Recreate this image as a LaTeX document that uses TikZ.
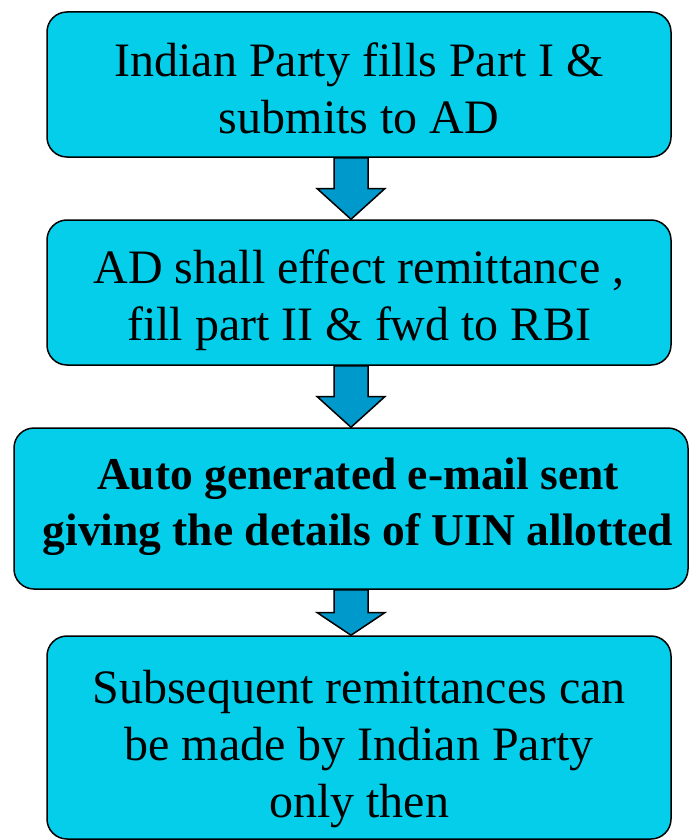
\documentclass[tikz,border=0pt]{standalone}
\usepackage{fontspec}
\setmainfont{Liberation Serif}
\usetikzlibrary{calc}

\definecolor{boxcyan}{RGB}{5,206,234}
\definecolor{arrowblue}{RGB}{0,153,204}

\newcommand\boxtextstyle{\fontsize{48}{57}\selectfont}
\newcommand\boldtextstyle{\fontsize{45.5}{56}\selectfont\bfseries}
\newcommand\shaftwidth{17pt}
\newcommand\headwidth{34pt}
\newcommand\flowarrow[2]{
  \coordinate (top) at (#1.south -| axis) ;
  \coordinate (tip) at (#2.north -| axis) ;
  \coordinate (mid) at ($(top)!.5!(tip)$) ;
  \draw[arrowfill] ([xshift=-\shaftwidth]top) -- ([xshift=\shaftwidth]top)
    -- ([xshift=\shaftwidth]mid) -- ([xshift=\headwidth]mid) -- (tip)
    -- ([xshift=-\headwidth]mid) -- ([xshift=-\shaftwidth]mid) -- cycle ;
}

\tikzset{
  stepbox/.style={draw, line width=1.5pt, fill=boxcyan, rounded corners=20pt,
    inner sep=0pt, minimum width=624pt, minimum height=145pt},
  steptext/.style={align=center, inner sep=0pt, font=\boxtextstyle},
  arrowfill/.style={draw, line width=1.5pt, fill=arrowblue, line join=miter}
}

\begin{document}
\begin{tikzpicture}[x=1pt, y=-1pt]
    \useasboundingbox (0, 0) rectangle (690, 840) ;
    \coordinate (axis) at (351, 0) ;

    % boxes
    \node[stepbox] (fill) at (359, 84.5) {} ;
    \node[stepbox] (effect) at (359, 292.5) {} ;
    \node[stepbox, minimum width=674pt, minimum height=161pt] (uin) at (351, 508.5) {} ;
    \node[stepbox, minimum height=203pt] (later) at (359, 737.5) {} ;

    % texts
    \node[steptext] (filltext) at ([yshift=-4pt]fill.center) {Indian Party fills Part I \&\\ submits to AD} ;
    \node[steptext] (effecttext) at ([yshift=-8pt]effect.center) {AD shall effect remittance ,\\ fill part II \& fwd to RBI} ;
    \node[steptext, font=\boldtextstyle] (uintext) at ([xshift=7pt, yshift=2pt]uin.center)
      {Auto generated e-mail sent\\ giving the details of UIN allotted} ;
    \node[steptext] (latertext) at ([yshift=-12pt]later.center)
      {Subsequent remittances can\\ be made by Indian Party\\ only then} ;

    \flowarrow{fill}{effect}
    \flowarrow{effect}{uin}
    \flowarrow{uin}{later}
\end{tikzpicture}
\end{document}
